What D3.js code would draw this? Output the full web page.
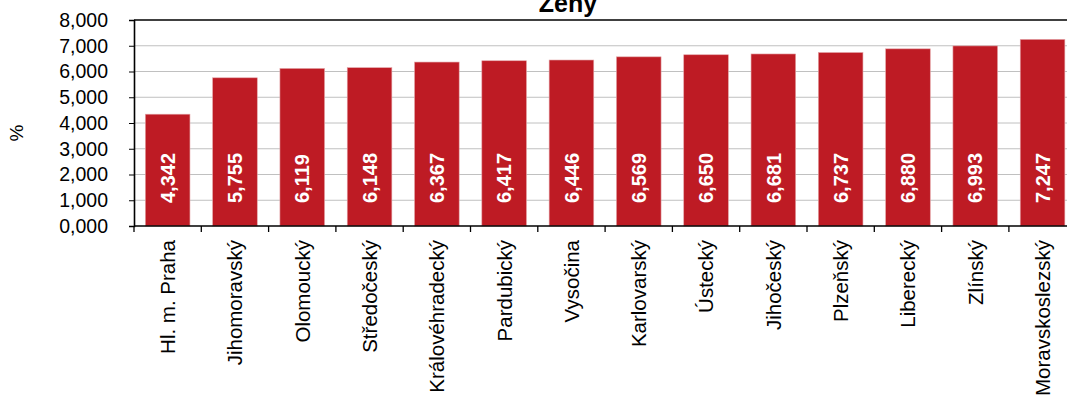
<!DOCTYPE html>
<html>
<head>
<meta charset="utf-8">
<script src="https://cdn.jsdelivr.net/npm/d3@7"></script>
<style>
  body { margin: 0; background: #fff; }
  svg { display: block; font-family: "Liberation Sans", Arial, sans-serif; }
</style>
</head>
<body>
<svg id="chart"></svg>
<script>
const regions = ["Hl. m. Praha", "Jihomoravský", "Olomoucký", "Středočeský", "Královéhradecký",
  "Pardubický", "Vysočina", "Karlovarský", "Ústecký", "Jihočeský", "Plzeňský", "Liberecký",
  "Zlínský", "Moravskoslezský"];
const values = [4.342, 5.755, 6.119, 6.148, 6.367, 6.417, 6.446, 6.569, 6.650, 6.681, 6.737, 6.880, 6.993, 7.247];
const yTicks = [0, 1, 2, 3, 4, 5, 6, 7, 8];
const title = "Ženy";
const yLabel = "%";

const width = 1067, height = 400;
const svg = d3.select("#chart").attr("width", width).attr("height", height);

// plot area runs a bit past the right edge, like the source image
const plotLeft = 134, plotTop = 20, plotBottom = 226;
const plotRight = plotLeft + 14 * 67.3;

// comma as decimal separator, e.g. 4,342
const fmtVal = v => v.toFixed(3).replace(".", ",");

const x = d3.scaleBand().domain(regions).range([plotLeft, plotRight]).paddingInner(0.337).paddingOuter(0.1685);
const y = d3.scaleLinear().domain([0, 8]).range([plotBottom, plotTop]);

// gridlines
svg.append("g").selectAll("line").data(yTicks.filter(t => t > 0 && t < 8)).join("line")
  .attr("x1", plotLeft).attr("x2", plotRight)
  .attr("y1", d => y(d)).attr("y2", d => y(d))
  .attr("stroke", "#c0c0c0").attr("stroke-width", 1);

// bars
svg.append("g").selectAll("rect").data(values).join("rect")
  .attr("x", (d, i) => x(regions[i]))
  .attr("y", d => y(d))
  .attr("width", x.bandwidth())
  .attr("height", d => plotBottom - y(d))
  .attr("fill", "#be1b24")
  .attr("stroke", "#e3a3a6").attr("stroke-width", 0.6);

// value labels inside bars
svg.append("g").selectAll("text").data(values).join("text")
  .attr("transform", (d, i) => `translate(${x(regions[i]) + x.bandwidth() / 2},${plotBottom - 23}) rotate(-90)`)
  .attr("dy", "0.36em")
  .attr("text-anchor", "start")
  .attr("fill", "#fff")
  .attr("font-weight", "bold")
  .attr("font-size", "20px")
  .text(d => fmtVal(d));

// top border
svg.append("line").attr("x1", plotLeft).attr("x2", plotRight).attr("y1", plotTop).attr("y2", plotTop)
  .attr("stroke", "#000").attr("stroke-width", 1.6);

// y axis
const yAxis = svg.append("g").attr("transform", `translate(${plotLeft},0)`)
  .call(d3.axisLeft(y).tickValues(yTicks).tickSize(5).tickPadding(21).tickFormat(fmtVal));
yAxis.select(".domain").attr("stroke", "#000").attr("stroke-width", 1.6);
yAxis.selectAll(".tick line").attr("stroke", "#000");
yAxis.selectAll("text").attr("font-size", "19.5px").attr("fill", "#000")
  .attr("font-family", "Liberation Sans, Arial, sans-serif");

// x axis: ticks at band boundaries
svg.append("line").attr("x1", plotLeft).attr("x2", plotRight).attr("y1", plotBottom).attr("y2", plotBottom)
  .attr("stroke", "#000").attr("stroke-width", 1.6);
const step = x.step();
const x0 = x(regions[0]) - step * x.paddingOuter();
svg.append("g").selectAll("line").data(d3.range(regions.length + 1)).join("line")
  .attr("x1", i => x0 + i * step)
  .attr("x2", i => x0 + i * step)
  .attr("y1", plotBottom).attr("y2", plotBottom + 6)
  .attr("stroke", "#000").attr("stroke-width", 1.3);

svg.append("g").selectAll("text").data(regions).join("text")
  .attr("transform", d => `translate(${x(d) + x.bandwidth() / 2},${plotBottom + 14}) rotate(-90)`)
  .attr("dy", "0.36em")
  .attr("text-anchor", "end")
  .attr("font-size", "20.5px")
  .attr("fill", "#000")
  .text(d => d);

// y label
svg.append("text")
  .attr("transform", `translate(16,133) rotate(-90)`)
  .attr("dy", "0.36em")
  .attr("text-anchor", "middle")
  .attr("font-size", "19px")
  .text(yLabel);

// title (clipped at the top, as in the source)
svg.append("text")
  .attr("x", 568).attr("y", 12)
  .attr("text-anchor", "middle")
  .attr("font-weight", "bold")
  .attr("font-size", "25px")
  .text(title);
</script>
</body>
</html>
